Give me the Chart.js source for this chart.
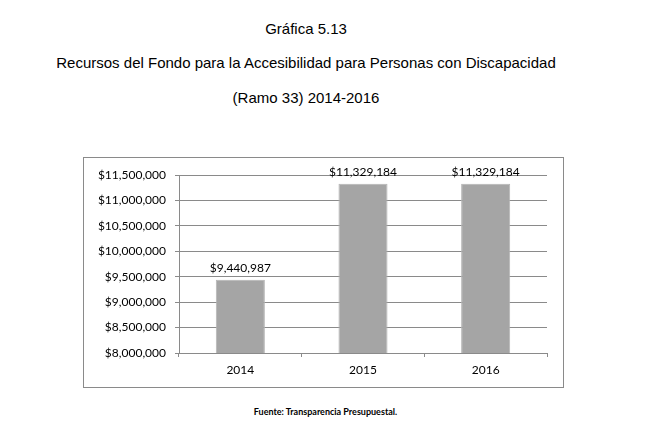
<!DOCTYPE html>
<html>
<head>
<meta charset="utf-8">
<script src="https://cdn.jsdelivr.net/npm/chart.js@4/dist/chart.umd.min.js"></script>
<style>
  body { margin: 0; width: 651px; height: 444px; background: #fff; position: relative; font-family: "Liberation Sans", Arial, sans-serif; }
  .title { position: absolute; left: 0; width: 612px; text-align: center; font-size: 15px; color: #000; }
  #box { position: absolute; left: 83px; top: 157px; width: 479px; height: 229px; border: 1px solid #8a8a8a; }
  #chartWrap { position: absolute; left: 0; top: 0; width: 479px; height: 229px; }
  .source { position: absolute; left: 0; width: 651px; text-align: center; top: 406px; font-family: Lato, sans-serif; font-weight: bold; font-size: 9px; color: #000; }
</style>
</head>
<body>
<div class="title" style="top:20px">Gráfica 5.13</div>
<div class="title" style="top:54px">Recursos del Fondo para la Accesibilidad para Personas con Discapacidad</div>
<div class="title" style="top:89px">(Ramo 33) 2014-2016</div>
<div id="box"><div id="chartWrap"><canvas id="fondoChart"></canvas></div></div>
<div class="source">Fuente: Transparencia Presupuestal.</div>
<script>
const years = ["2014", "2015", "2016"];
const recursos = [9440987, 11329184, 11329184];
const yMin = 8000000;
const yMax = 11500000;
const yStep = 500000;

function money(v) {
    return "$" + Number(v).toLocaleString("en-US");
}

// draws the value above each bar
const barLabels = {
    id: "barLabels",
    afterDatasetsDraw(chart) {
        const ctx = chart.ctx;
        const meta = chart.getDatasetMeta(0);
        ctx.save();
        ctx.font = "12px Lato, sans-serif";
        ctx.fillStyle = "#000";
        ctx.textAlign = "center";
        ctx.textBaseline = "bottom";
        meta.data.forEach((bar, i) => {
            ctx.fillText(money(recursos[i]), bar.x, bar.y - 6);
        });
        ctx.restore();
    }
};

const ctx = document.getElementById("fondoChart").getContext("2d");
const fondoChart = new Chart(ctx, {
    type: "bar",
    data: {
        labels: years,
        datasets: [{
            data: recursos,
            backgroundColor: "#a5a5a5",
            borderColor: "#b4b4b4",
            borderWidth: 1,
            barPercentage: 0.4,
            categoryPercentage: 1
        }]
    },
    options: {
        responsive: true,
        maintainAspectRatio: false,
        animation: false,
        layout: { padding: { left: 0, right: 16, top: 17, bottom: 0 } },
        plugins: {
            legend: { display: false },
            tooltip: { enabled: false }
        },
        scales: {
            y: {
                min: yMin,
                max: yMax,
                ticks: {
                    stepSize: yStep,
                    callback: (v) => money(v),
                    color: "#000",
                    font: { family: "Lato, sans-serif", size: 12 },
                    padding: 9
                },
                grid: { color: "#8a8a8a", tickLength: 4, lineWidth: 1 },
                border: { color: "#8a8a8a" },
                afterFit(scale) { scale.width = 95; }
            },
            x: {
                ticks: {
                    color: "#000",
                    font: { family: "Lato, sans-serif", size: 12 },
                    padding: 6
                },
                grid: { offset: true, drawOnChartArea: false, tickLength: 4, color: "#8a8a8a" },
                border: { color: "#8a8a8a" },
                afterFit(scale) { scale.height = 34; }
            }
        }
    },
    plugins: [barLabels]
});
</script>
</body>
</html>
